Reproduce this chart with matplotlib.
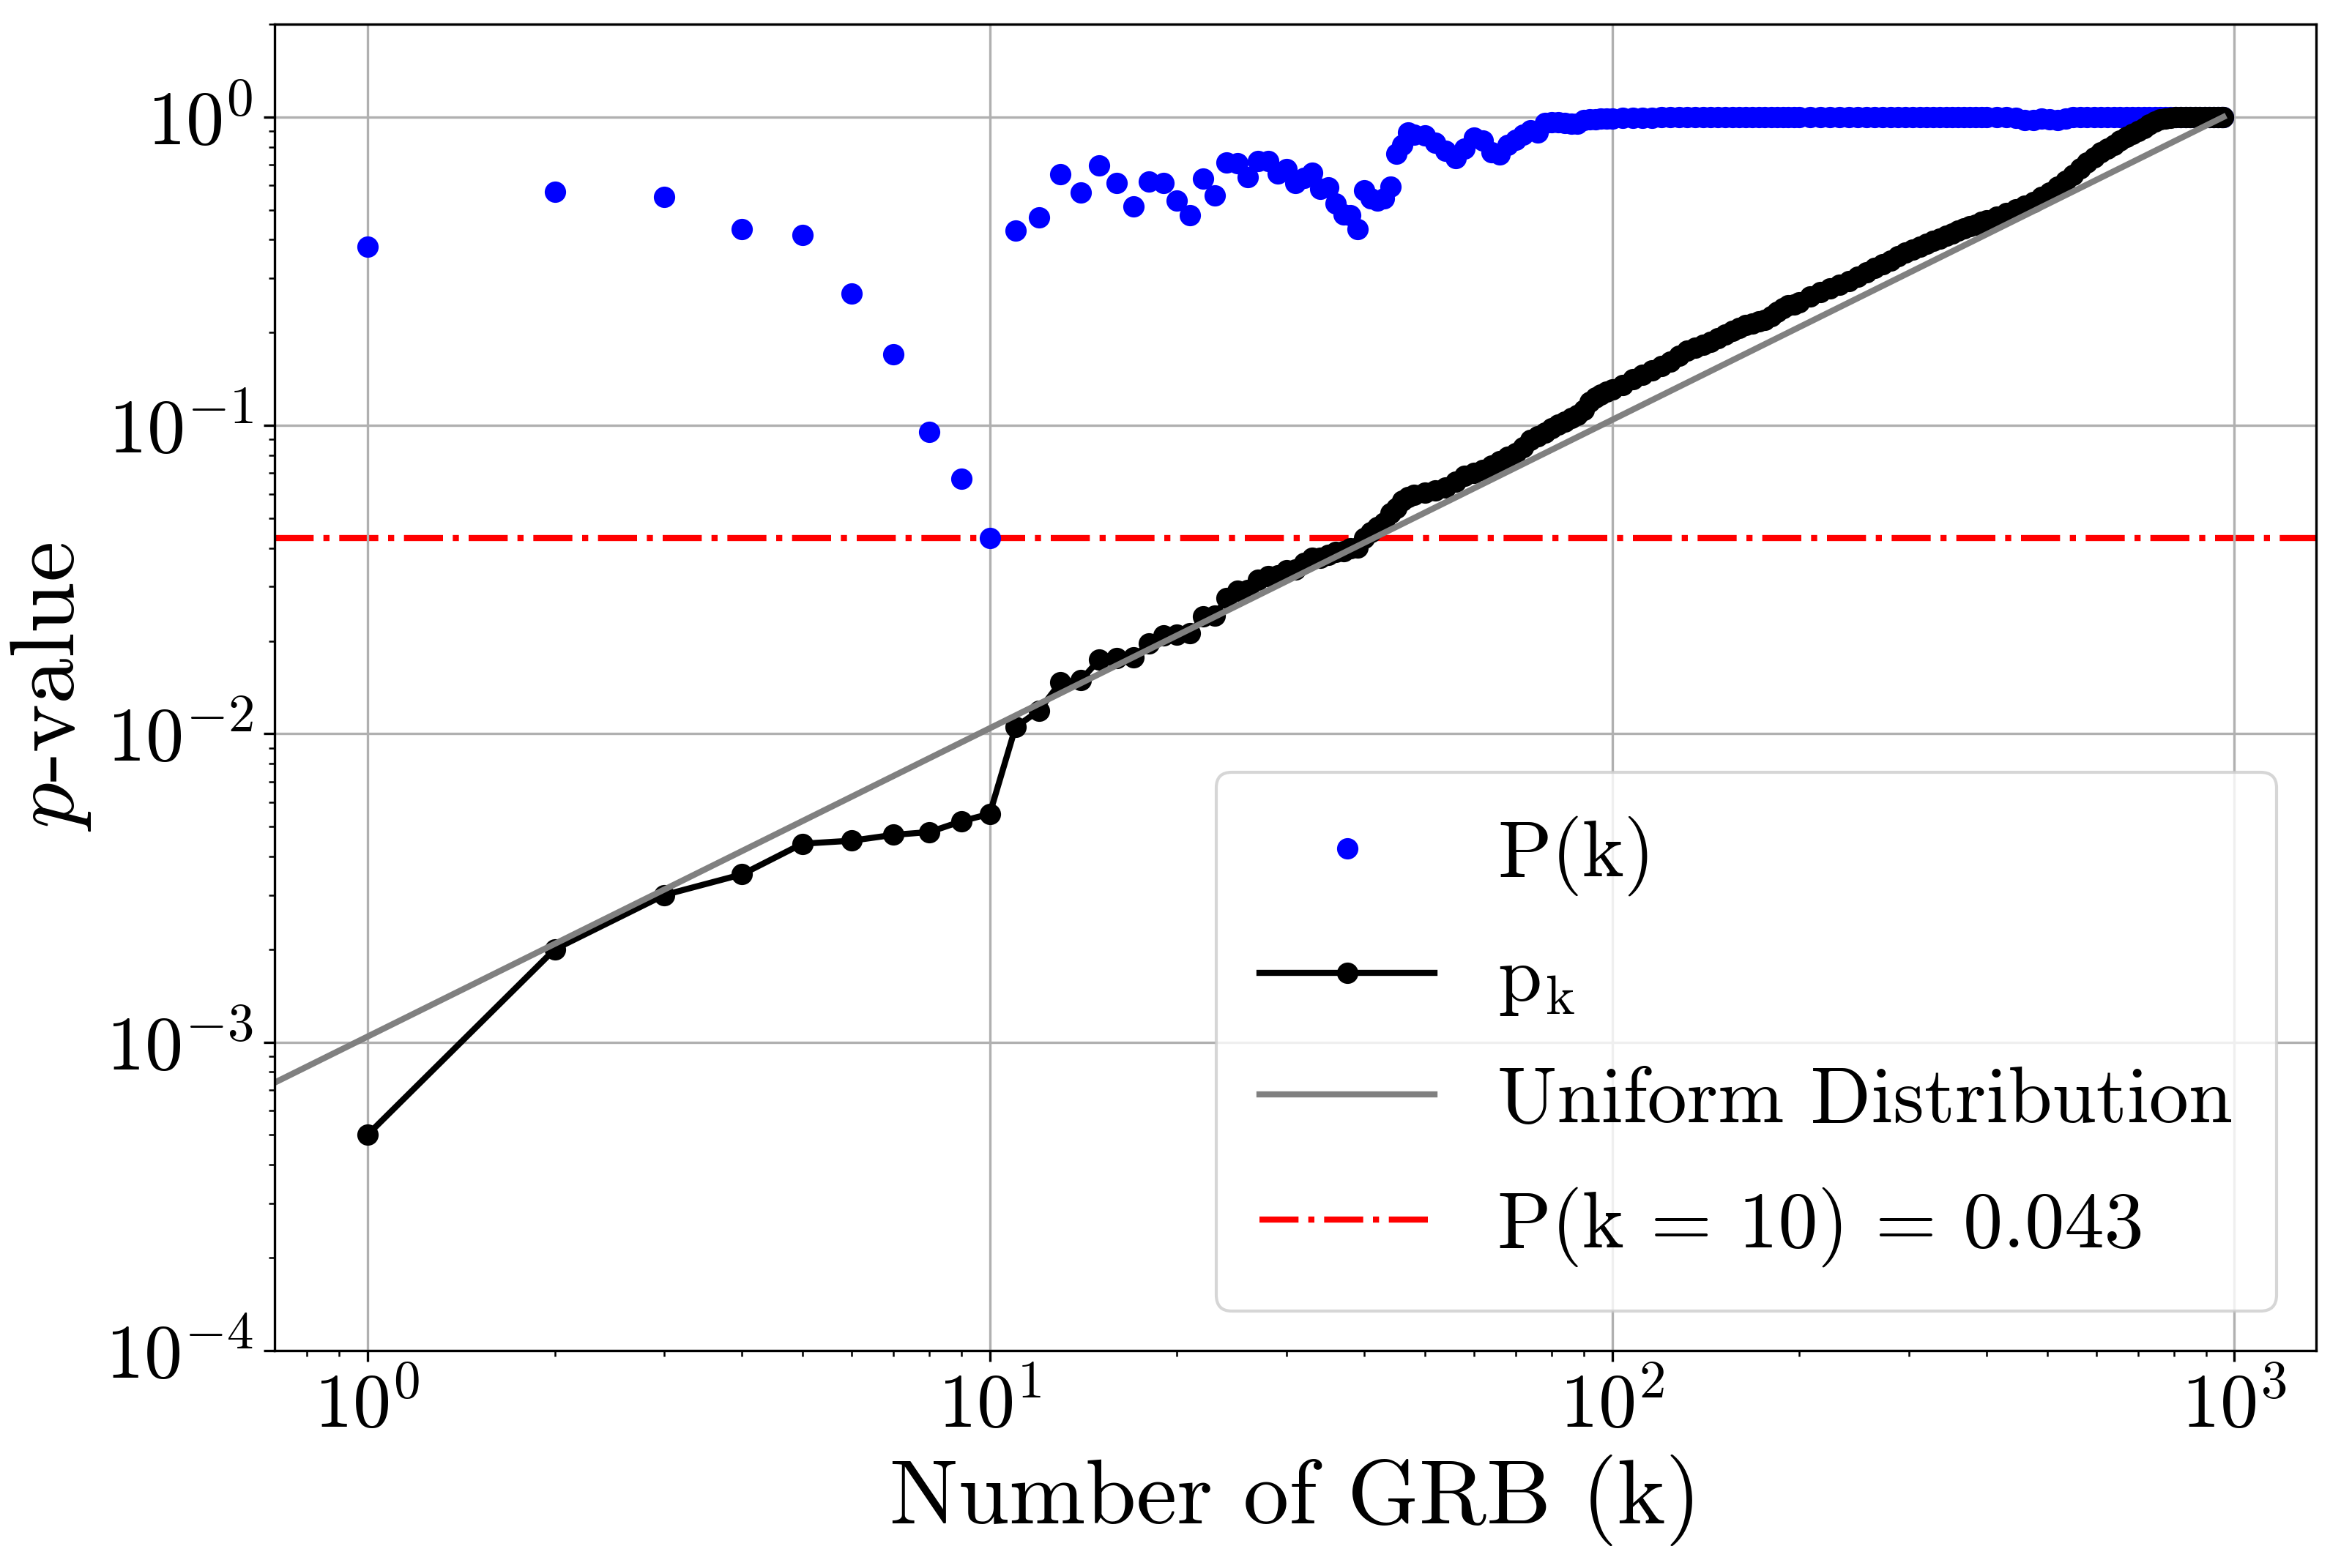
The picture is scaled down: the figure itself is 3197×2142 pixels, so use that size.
import matplotlib
matplotlib.use("Agg")
import matplotlib.pyplot as plt

plt.rcParams["font.family"] = ["cmr10", "DejaVu Serif"]
plt.rcParams["mathtext.fontset"] = "cm"
plt.rcParams["axes.formatter.use_mathtext"] = True

# number of GRBs in the sample and the threshold
n_grb = 960
p_threshold = 0.043

# k values where the two series are drawn
k_vals = [
    1, 2, 3, 4, 5, 6, 7, 8, 9, 10, 11, 12, 13, 14, 15, 16, 17, 18, 19, 20,
    21, 22, 23, 24, 25, 26, 27, 28, 29, 30, 31, 32, 33, 34, 35, 36, 37, 38, 39, 40,
    41, 42, 43, 44, 45, 46, 47, 48,
    50, 52, 54, 56, 58, 60, 62, 64, 66, 68, 70, 72, 74, 76, 78, 80, 82, 84, 86, 88,
    90, 92, 94, 96, 98, 100,
    104, 108, 112, 116, 120, 124, 128, 132, 136, 140, 144, 148, 152, 156, 160, 164,
    168, 172, 176, 180, 184, 188, 192, 196, 200,
    208, 216, 224, 232, 240, 248, 256, 264, 272, 280, 288, 296, 304, 312, 320, 328,
    336, 344, 352, 360, 368, 376, 384, 392, 400,
    415, 430, 445, 460, 475, 490, 505, 520, 535, 550, 565, 580, 595, 610, 625, 640,
    655, 670, 685, 700, 715, 730, 745, 760, 775, 790, 805, 820, 835, 850, 865, 880,
    895, 910, 925, 940, 955, 960,
]

# P(k): probability of k or more GRBs below p_k
P_vals = [
    0.380, 0.572, 0.550, 0.433, 0.415, 0.267, 0.170, 0.095, 0.067, 0.043,
    0.427, 0.472, 0.651, 0.570, 0.698, 0.611, 0.514, 0.616, 0.611, 0.535,
    0.481, 0.631, 0.556, 0.710, 0.708, 0.637, 0.720, 0.718, 0.656, 0.679,
    0.611, 0.633, 0.660, 0.584, 0.590, 0.523, 0.482, 0.480, 0.433, 0.578,
    0.545, 0.535, 0.545, 0.594, 0.762, 0.810, 0.893, 0.875,
    0.870, 0.825, 0.775, 0.735, 0.790, 0.855, 0.840, 0.770, 0.755, 0.810,
    0.845, 0.875, 0.905, 0.890, 0.955, 0.960, 0.962, 0.958, 0.950, 0.952,
    0.975, 0.982, 0.985, 0.988, 0.990, 0.990,
    0.992, 0.994, 0.995, 0.996, 0.997, 0.998, 0.998, 0.999, 1.0, 1.0,
    1.0, 1.0, 1.0, 1.0, 1.0, 1.0, 1.0, 1.0, 1.0, 1.0, 1.0, 1.0, 1.0, 1.0, 1.0,
    1.0, 1.0, 1.0, 1.0, 1.0, 1.0, 1.0, 1.0, 1.0, 1.0, 1.0, 1.0, 1.0, 1.0, 1.0,
    1.0, 1.0, 1.0, 1.0, 1.0, 1.0, 1.0, 1.0, 1.0, 1.0,
    1.0, 1.0, 0.995, 0.978, 0.975, 0.990, 0.985, 0.978, 0.990, 1.0,
    1.0, 1.0, 1.0, 1.0, 1.0, 1.0, 1.0, 1.0, 1.0, 1.0, 1.0, 1.0, 1.0, 1.0,
    1.0, 1.0, 1.0, 1.0, 1.0, 1.0, 1.0, 1.0, 1.0, 1.0, 1.0, 1.0, 1.0, 1.0,
]

# p_k: k-th smallest p-value
p_vals = [
    0.0005, 0.0020, 0.0030, 0.0035, 0.0044, 0.0045, 0.0047, 0.0048, 0.0052, 0.0055,
    0.0105, 0.0119, 0.0147, 0.0149, 0.0174, 0.0176, 0.0177, 0.0196, 0.0208, 0.0209,
    0.0212, 0.0240, 0.0241, 0.0276, 0.0291, 0.0293, 0.0315, 0.0324, 0.0327, 0.0339,
    0.0341, 0.0359, 0.0372, 0.0373, 0.0381, 0.0389, 0.0391, 0.0399, 0.0401, 0.0432,
    0.0450, 0.0467, 0.0483, 0.0518, 0.0540, 0.0570, 0.0585, 0.0596,
    0.0605, 0.0615, 0.0628, 0.0655, 0.0685, 0.0700, 0.0718, 0.0740, 0.0765, 0.0790,
    0.0815, 0.0850, 0.0895, 0.0920, 0.0945, 0.0980, 0.1005, 0.1030, 0.1055, 0.1080,
    0.1120, 0.1190, 0.1230, 0.1260, 0.1285, 0.1305,
    0.1350, 0.1410, 0.1460, 0.1510, 0.1560, 0.1610, 0.1680, 0.1745, 0.1790, 0.1830,
    0.1870, 0.1920, 0.1975, 0.2030, 0.2075, 0.2110, 0.2140, 0.2170, 0.2200, 0.2260,
    0.2330, 0.2400, 0.2450, 0.2470, 0.2500,
    0.2620, 0.2700, 0.2780, 0.2860, 0.2930, 0.3030, 0.3140, 0.3240, 0.3330, 0.3420,
    0.3530, 0.3630, 0.3720, 0.3800, 0.3880, 0.3970, 0.4040, 0.4110, 0.4190, 0.4270,
    0.4350, 0.4420, 0.4480, 0.4560, 0.4630,
    0.4740, 0.4880, 0.5010, 0.5150, 0.5310, 0.5500, 0.5680, 0.5950, 0.6200, 0.6500,
    0.6800, 0.7100, 0.7400, 0.7700, 0.7900, 0.8120, 0.8400, 0.8600, 0.8800, 0.9000,
    0.9200, 0.9450, 0.9650, 0.9800, 0.9900, 0.9960, 1.0, 1.0, 1.0, 1.0,
    1.0, 1.0, 1.0, 1.0, 1.0, 1.0, 1.0, 1.0,
]


def make_plot():
    fig = plt.figure(figsize=(3197 / 300, 2142 / 300), dpi=300)
    ax = fig.add_axes([0.1173, 0.1387, 0.8721, 0.8459])

    red = ax.axhline(p_threshold, color="red", ls="-.", lw=2, zorder=1.5,
                     label=r"P(k = 10) = 0.043")
    blue, = ax.plot(k_vals, P_vals, "o", color="blue", ms=6, label="P(k)")
    black, = ax.plot(k_vals, p_vals, "-o", color="black", lw=2, ms=6,
                     label=r"$\mathrm{p_k}$")

    ax.set_xscale("log")
    ax.set_yscale("log")
    ax.set_ylim(1e-4, 2)
    ax.autoscale_view()
    x0, x1 = ax.get_xlim()
    ax.set_xlim(x0, x1)

    # uniform expectation p = k / N, a straight line on log-log axes
    gray, = ax.plot([x0, n_grb], [x0 / n_grb, 1.0], color="gray", lw=2,
                    label="Uniform Distribution", scalex=False, scaley=False)

    ax.grid(True, which="major")
    ax.tick_params(labelsize=25)
    ax.set_xlabel("Number of GRB (k)", fontsize=30)
    ax.set_ylabel(r"$p$-value", fontsize=30)
    ax.legend(handles=[blue, black, gray, red], loc="lower right", fontsize=26,
              handlelength=2.2, labelspacing=0.62, borderpad=0.55)

    return fig


if __name__ == "__main__":
    fig = make_plot()
    fig.savefig("out.png", dpi=300)
